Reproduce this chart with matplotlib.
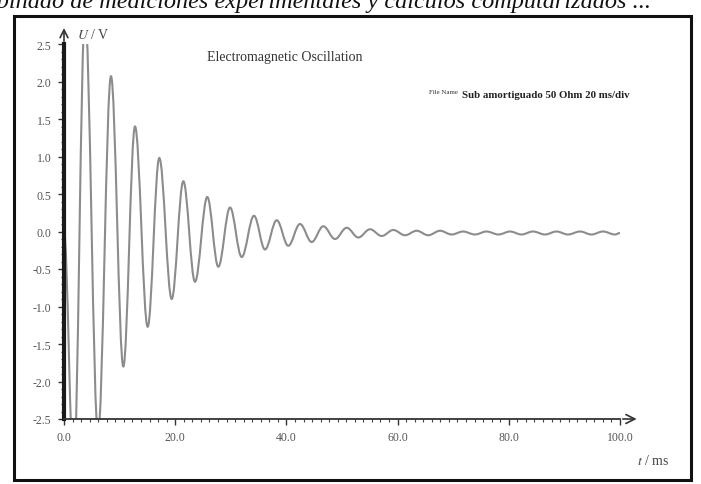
import numpy as np
import matplotlib
matplotlib.use("Agg")
import matplotlib.pyplot as plt
from matplotlib.path import Path
from matplotlib.patches import PathPatch, Rectangle
from matplotlib.ticker import MultipleLocator, FormatStrFormatter

plt.rcParams['font.family'] = ['Liberation Serif', 'DejaVu Serif']
plt.rcParams['mathtext.fontset'] = 'stix'

# extremos (t en ms, U en V)
ext_t = [0.0, 1.74, 3.78, 6.12, 8.45, 10.67, 12.77, 15.05, 17.14, 19.37,
         21.46, 23.56, 25.77, 27.75, 29.86, 31.96, 34.17, 36.15, 38.26, 40.34,
         42.45, 44.55, 46.64, 48.74, 50.85, 52.93, 55.04, 57.14, 59.23, 61.33,
         63.43, 65.52, 67.63, 69.73, 71.76, 73.92, 75.99, 78.15, 80.22, 82.28,
         84.35, 86.51, 88.58, 90.65, 92.81, 94.87, 96.94, 99.1, 100.0]
ext_v = [0.0, -3.2, 2.9, -2.7, 2.07, -1.80, 1.40, -1.27, 0.98, -0.90,
         0.67, -0.67, 0.46, -0.47, 0.32, -0.34, 0.21, -0.24, 0.15, -0.19,
         0.10, -0.14, 0.07, -0.10, 0.05, -0.08, 0.03, -0.06, 0.02, -0.05,
         0.01, -0.05, 0.01, -0.04, 0.0, -0.04, 0.0, -0.04, 0.0, -0.04,
         0.0, -0.04, 0.0, -0.04, 0.0, -0.04, 0.0, -0.04, -0.02]

x_ticks = [0, 20, 40, 60, 80, 100]
y_ticks = [-2.5, -2.0, -1.5, -1.0, -0.5, 0.0, 0.5, 1.0, 1.5, 2.0, 2.5]

fig = plt.figure(figsize=(7.01, 4.85), dpi=100)

# marco exterior y texto cortado arriba
fig.patches.append(Rectangle((14/701, 4/485), 677/701, 464/485,
                             transform=fig.transFigure, fill=False,
                             lw=2.2, ec='#111111'))
fig.text(651/701, 1 - 8/485,
         'Combinado de mediciones experimentales y cálculos computarizados ...',
         ha='right', va='baseline', fontsize=17.5, style='italic', color='#111111')

ax = fig.add_axes((64/701, 65/485, 556/701, 375/485))

# curva suave entre extremos (bezier con tangente horizontal en cada extremo)
k = 0.363
verts = [(ext_t[0], ext_v[0])]
codes = [Path.MOVETO]
for i in range(1, len(ext_t)):
    t0, v0 = ext_t[i-1], ext_v[i-1]
    t1, v1 = ext_t[i], ext_v[i]
    d = t1 - t0
    verts += [(t0 + k*d, v0), (t1 - k*d, v1), (t1, v1)]
    codes += [Path.CURVE4, Path.CURVE4, Path.CURVE4]
ax.add_patch(PathPatch(Path(verts, codes), fc='none', ec='#8c8c8c', lw=1.5))

ax.set_xlim(0, 100)
ax.set_ylim(-2.5, 2.5)

for s in ['top', 'right']:
    ax.spines[s].set_visible(False)
ax.spines['left'].set_linewidth(3)
ax.spines['left'].set_color('#1a1a1a')
ax.spines['bottom'].set_linewidth(1.3)
ax.spines['bottom'].set_color('#333333')

ax.set_xticks(x_ticks)
ax.set_yticks(y_ticks)
ax.xaxis.set_major_formatter(FormatStrFormatter('%.1f'))
ax.yaxis.set_major_formatter(FormatStrFormatter('%.1f'))
ax.xaxis.set_minor_locator(MultipleLocator(20/13))
ax.yaxis.set_minor_locator(MultipleLocator(0.1))
ax.tick_params(which='major', length=4, width=1, color='#333333',
               labelsize=8.5, labelcolor='#555555')
ax.tick_params(axis='x', which='major', pad=5)
ax.tick_params(axis='y', which='major', pad=5)
ax.tick_params(which='minor', length=2, width=0.8, color='#444444')

# flechas de los ejes
ax.annotate('', xy=(1.035, 0), xytext=(1.0, 0), xycoords='axes fraction',
            arrowprops=dict(arrowstyle='->', color='#333333', lw=1.2,
                            mutation_scale=16), annotation_clip=False)
ax.annotate('', xy=(0, 1.05), xytext=(0, 1.0), xycoords='axes fraction',
            arrowprops=dict(arrowstyle='->', color='#333333', lw=1.2,
                            mutation_scale=14), annotation_clip=False)

fig.text(77/701, 1 - 35/485, '$U$ / V', fontsize=10, color='#444444',
         ha='left', va='center')
fig.text(637/701, 1 - 461/485, '$t$ / ms', fontsize=10, color='#444444',
         ha='left', va='center')

fig.text(207/701, 1 - 57/485, 'Electromagnetic Oscillation', fontsize=10,
         color='#333333', ha='left', va='center')
fig.text(458/701, 1 - 93/485, 'File Name', fontsize=5, color='#333333',
         ha='right', va='center')
fig.text(462/701, 1 - 95/485, 'Sub amortiguado 50 Ohm 20 ms/div', fontsize=7.8,
         weight='bold', color='#222222', ha='left', va='center')

fig.savefig('out.png', dpi=100)
